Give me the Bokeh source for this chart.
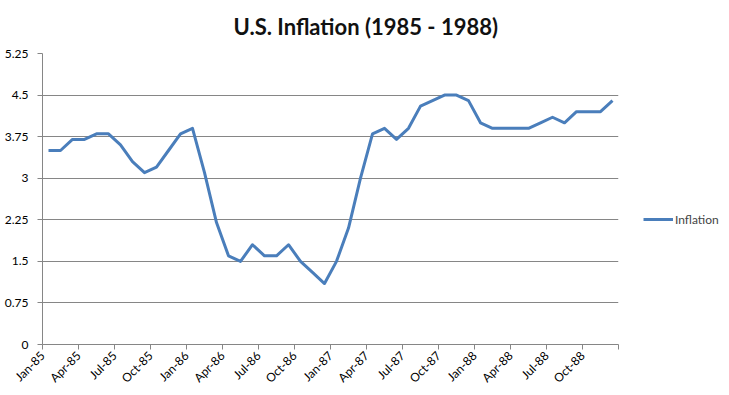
import math
from bokeh.plotting import figure
from bokeh.models import Range1d, FixedTicker, Legend, LegendItem, ColumnDataSource
from bokeh.embed import file_html
from bokeh.resources import INLINE

months = [f"{m}-{y}" for y in ["85", "86", "87", "88"]
          for m in ["Jan", "Feb", "Mar", "Apr", "May", "Jun",
                    "Jul", "Aug", "Sep", "Oct", "Nov", "Dec"]]
inflation = [3.5, 3.5, 3.7, 3.7, 3.8, 3.8, 3.6, 3.3, 3.1, 3.2, 3.5, 3.8,
             3.9, 3.1, 2.2, 1.6, 1.5, 1.8, 1.6, 1.6, 1.8, 1.5, 1.3, 1.1,
             1.5, 2.1, 3.0, 3.8, 3.9, 3.7, 3.9, 4.3, 4.4, 4.5, 4.5, 4.4,
             4.0, 3.9, 3.9, 3.9, 3.9, 4.0, 4.1, 4.0, 4.2, 4.2, 4.2, 4.4]
x_tick_labels = ["Jan-85", "Apr-85", "Jul-85", "Oct-85", "Jan-86", "Apr-86",
                 "Jul-86", "Oct-86", "Jan-87", "Apr-87", "Jul-87", "Oct-87",
                 "Jan-88", "Apr-88", "Jul-88", "Oct-88", ""]
y_ticks = [0, 0.75, 1.5, 2.25, 3, 3.75, 4.5, 5.25]
y_tick_labels = ["0", "0.75", "1.5", "2.25", "3", "3.75", "4.5", "5.25"]

idx = list(range(len(months)))
src = ColumnDataSource(dict(x=idx, y=inflation, month=months))

FONT = "Lato"
p = figure(frame_width=576, frame_height=291, output_backend="svg",
           toolbar_location=None,
           x_range=Range1d(-0.5, len(months) - 0.5), y_range=Range1d(0, 5.25),
           min_border_left=42, min_border_right=95, min_border_top=53,
           min_border_bottom=49)
p.outline_line_color = None
p.title.text = "U.S. Inflation (1985 - 1988)"
p.title.text_font = FONT
p.title.text_font_size = "22px"
p.title.text_font_style = "bold"
p.title.text_color = "#111111"
p.title.align = "left"
p.title.offset = 191
p.title.standoff = 24
p.title.vertical_align = "top"

line = p.line("x", "y", source=src, line_color="#4A7EBB", line_width=3,
              line_join="round")

xt = [i * 3 - 0.5 for i in range(len(x_tick_labels))]
p.xaxis.ticker = FixedTicker(ticks=xt)
p.xaxis.major_label_overrides = {t: l for t, l in zip(xt, x_tick_labels)}
p.xaxis.major_label_orientation = math.pi / 4
p.yaxis.ticker = FixedTicker(ticks=y_ticks)
p.yaxis.major_label_overrides = {t: l for t, l in zip(y_ticks, y_tick_labels)}

for ax in (p.xaxis, p.yaxis):
    ax.axis_line_color = "#868686"
    ax.major_tick_line_color = "#868686"
    ax.major_tick_out = 5
    ax.major_tick_in = 0
    ax.minor_tick_line_color = None
    ax.major_label_text_font = FONT
    ax.major_label_text_font_size = "12px"
    ax.major_label_text_color = "#000000"
p.yaxis.major_label_standoff = 9
p.xaxis.major_label_standoff = 4

p.xgrid.grid_line_color = None
p.ygrid.grid_line_color = "#868686"
p.ygrid.grid_line_width = 1

legend = Legend(items=[LegendItem(label="Inflation", renderers=[line])],
                location=(25, 115), padding=0, margin=0, glyph_width=30,
                glyph_height=20, label_height=20, label_standoff=2,
                border_line_color=None, background_fill_alpha=0,
                label_text_font=FONT, label_text_font_size="12px")
p.add_layout(legend, "right")

open("out.html", "w").write(file_html(p, INLINE))
